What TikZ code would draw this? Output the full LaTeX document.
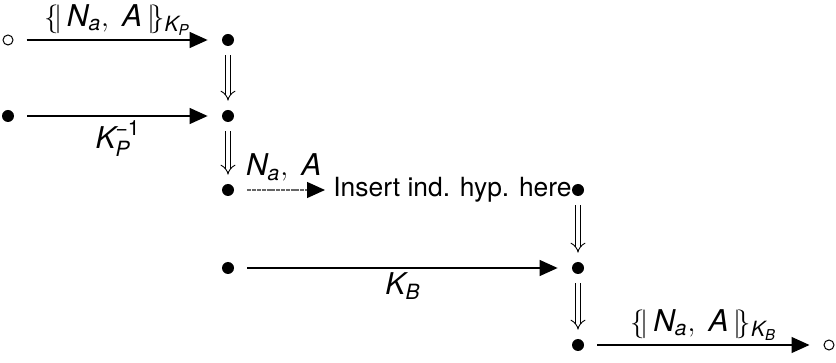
\documentclass[tikz,border=0pt]{standalone}
\usepackage{amsmath}
\usepackage{fontspec}
\setmainfont{TeX Gyre Heros}
\usetikzlibrary{arrows.meta}
\newcommand\mi[1]{\textit{#1}}
\newcommand\encl[1]{\{\!|\,\mi{N}_{\mi{a}},\ \mi{A}\,|\!\}_{\mi{K}_{\mi{#1}}}}
\tikzset{
  dotnode/.style={circle,fill=black,inner sep=0pt,minimum size=6pt},
  opennode/.style={circle,draw=black,line width=0.5pt,inner sep=0pt,minimum size=5pt},
  msgarrow/.style={line width=0.65pt,-{Triangle[length=9pt,width=8pt,color=black]},shorten <=6.5pt,shorten >=7pt},
  dasharrow/.style={msgarrow,draw=black!60,dash pattern=on 2pt off 0.4pt},
  impl/.style={double,double distance=2.2pt,line width=0.45pt,-{Implies},shorten <=4.5pt,shorten >=4.5pt},
  lbl/.style={font=\fontsize{15}{17}\selectfont,inner sep=1pt}
}
\begin{document}
\begin{tikzpicture}[x=0.5pt,y=-0.5pt,font=\fontsize{13.2}{15}\selectfont]
\useasboundingbox (0,0) rectangle (836,363);
% row 1
\node[opennode] (o1) at (8,40) {};
\node[dotnode] (a1) at (228,40) {};
% row 2
\node[dotnode] (b0) at (8,116) {};
\node[dotnode] (b1) at (228,116) {};
% row 3
\node[dotnode] (c0) at (228,190) {};
\node[anchor=west,inner sep=0pt] (c1) at (333,190) {Insert ind. hyp. here};
\node[dotnode] (c2) at (578,190) {};
% row 4
\node[dotnode] (d0) at (228,268) {};
\node[dotnode] (d1) at (578,268) {};
% row 5
\node[dotnode] (e0) at (578,345) {};
\node[opennode] (o2) at (829,345) {};

\draw[msgarrow] (o1) -- node[lbl,above=1pt] {$\encl{P}$} (a1);
\draw[impl] (a1) -- (b1);
\draw[msgarrow] (b0) -- node[lbl,below=1pt] {$\mi{K}_{\mi{P}}^{\textrm{\char"2212 1}}$} (b1);
\draw[impl] (b1) -- (c0);
\draw[dasharrow,shorten >=4pt] (c0) -- node[lbl,above=3pt] {$\mi{N}_{\mi{a}},\ \mi{A}$} (c1.west);
\draw[impl] (c2) -- (d1);
\draw[msgarrow] (d0) -- node[lbl,below=1pt] {$\mi{K}_{\mi{B}}$} (d1);
\draw[impl] (d1) -- (e0);
\draw[msgarrow] (e0) -- node[lbl,above=1pt] {$\encl{B}$} (o2);
\end{tikzpicture}
\end{document}
